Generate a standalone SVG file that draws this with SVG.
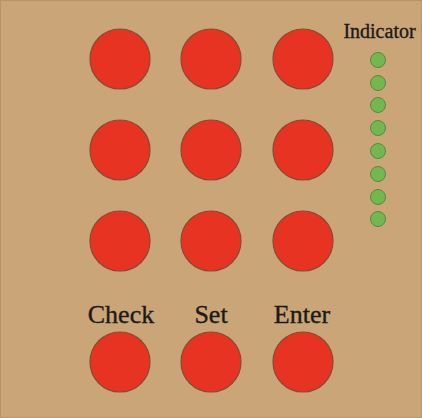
<svg xmlns="http://www.w3.org/2000/svg" width="422" height="418" viewBox="0 0 422 418">
<style>
.btn{fill:#e73322;stroke:#8b4a30;stroke-width:1.2}
.led{fill:#72b84f;stroke:#5a8a3a;stroke-width:1}
.lbl{font-family:"Liberation Serif","Times New Roman",serif;fill:#1c1a16;stroke:#1c1a16;stroke-width:0.35;text-anchor:middle}
</style>
<rect x="0" y="0" width="422" height="418" fill="#c9a577"/>
<rect x="0.5" y="0.5" width="421" height="417" fill="none" stroke="#b89466" stroke-width="1"/>
<g id="buttons">
<g id="b11"><circle class="btn" cx="120" cy="59" r="30"/></g>
<g id="b12"><circle class="btn" cx="211" cy="59" r="30"/></g>
<g id="b13"><circle class="btn" cx="303" cy="59" r="30"/></g>
<g id="b21"><circle class="btn" cx="120" cy="150" r="30"/></g>
<g id="b22"><circle class="btn" cx="211" cy="150" r="30"/></g>
<g id="b23"><circle class="btn" cx="303" cy="150" r="30"/></g>
<g id="b31"><circle class="btn" cx="120" cy="241" r="30"/></g>
<g id="b32"><circle class="btn" cx="211" cy="241" r="30"/></g>
<g id="b33"><circle class="btn" cx="303" cy="241" r="30"/></g>
<g id="check"><circle class="btn" cx="120" cy="362" r="30"/><text class="lbl" x="121" y="323" font-size="26">Check</text></g>
<g id="set"><circle class="btn" cx="211" cy="362" r="30"/><text class="lbl" x="211" y="323" font-size="26">Set</text></g>
<g id="enter"><circle class="btn" cx="303" cy="362" r="30"/><text class="lbl" x="302" y="323" font-size="26">Enter</text></g>
</g>
<g id="indicator">
<text class="lbl" x="379.5" y="37.5" font-size="20">Indicator</text>
<circle class="led" cx="378" cy="60" r="7.5"/>
<circle class="led" cx="378" cy="83" r="7.5"/>
<circle class="led" cx="378" cy="105" r="7.5"/>
<circle class="led" cx="378" cy="128" r="7.5"/>
<circle class="led" cx="378" cy="151" r="7.5"/>
<circle class="led" cx="378" cy="174" r="7.5"/>
<circle class="led" cx="378" cy="197" r="7.5"/>
<circle class="led" cx="378" cy="219" r="7.5"/>
</g>
<g id="connectors"></g>
</svg>
